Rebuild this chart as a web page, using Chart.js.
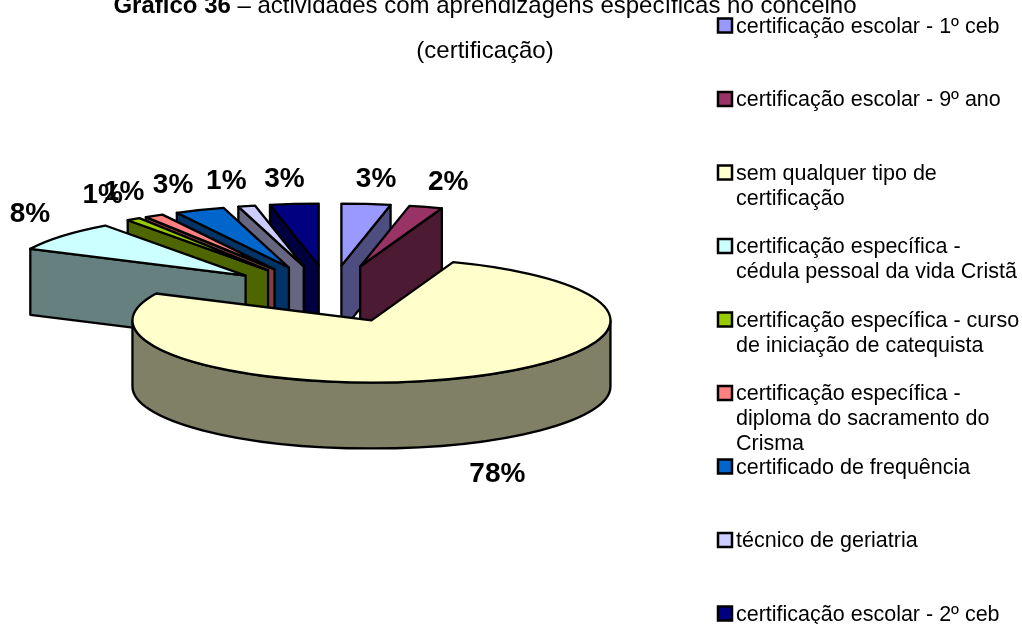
<!DOCTYPE html>
<html>
<head>
<meta charset="utf-8">
<title>Gráfico 36</title>
<script src="https://cdn.jsdelivr.net/npm/chart.js@4"></script>
<style>
  html, body { margin: 0; padding: 0; background: #fff; }
  #wrap { width: 1022px; height: 624px; overflow: hidden; }
</style>
</head>
<body>
<div id="wrap"><canvas id="pie" width="1022" height="624"></canvas></div>
<script>
const categories = [
    'certificação escolar - 1º ceb',
    'certificação escolar - 9º ano',
    'sem qualquer tipo de certificação',
    'certificação específica - cédula pessoal da vida Cristã',
    'certificação específica - curso de iniciação de catequista',
    'certificação específica - diploma do sacramento do Crisma',
    'certificado de frequência',
    'técnico de geriatria',
    'certificação escolar - 2º ceb'
];
// angular share of each slice
const sliceValues = [3.3, 2.25, 76.6, 7.86, 0.94, 1.28, 3.36, 1.14, 3.27];
// printed labels (the picture's rounded numbers)
const percentLabels = ['3%', '2%', '78%', '8%', '1%', '1%', '3%', '1%', '3%'];
const topColors = ['#9999FF', '#993366', '#FFFFCC', '#CCFFFF', '#99CC00', '#FF8080', '#0066CC', '#CCCCFF', '#000080'];
const wallColors = ['#4D4D80', '#4D1A33', '#808066', '#668080', '#4D6600', '#804040', '#003366', '#666680', '#000040'];
const titleBold = 'Gráfico 36';
const titleRest = ' – actividades com aprendizagens específicas no concelho';
const titleLine2 = '(certificação)';

const FONT = '"Liberation Sans", Arial, sans-serif';
const TILT = 62 / 239;   // ellipse height / width
const DEPTH = 66;        // height of the extruded pie

function project(c, a, r) {
    return { x: c.x + Math.cos(a) * r, y: c.y + Math.sin(a) * r * TILT };
}

// arc element -> exploded centre on screen
function sliceGeom(el) {
    const mid = (el.startAngle + el.endAngle) / 2;
    const apex = project({ x: el.x, y: el.y }, mid, el.options.offset);
    return { apex, mid, start: el.startAngle, end: el.endAngle, r: el.outerRadius };
}

function radialWall(ctx, g, a, color) {
    const p = project(g.apex, a, g.r);
    ctx.beginPath();
    ctx.moveTo(g.apex.x, g.apex.y);
    ctx.lineTo(p.x, p.y);
    ctx.lineTo(p.x, p.y + DEPTH);
    ctx.lineTo(g.apex.x, g.apex.y + DEPTH);
    ctx.closePath();
    ctx.fillStyle = color;
    ctx.fill();
    ctx.stroke();
}

function outerWall(ctx, g, color) {
    // only the part of the rim turned to the viewer (canvas angle 0..PI)
    const a1 = Math.max(g.start, 0);
    const a2 = Math.min(g.end, Math.PI);
    if (a2 <= a1) return;
    const rx = g.r, ry = g.r * TILT;
    ctx.beginPath();
    ctx.ellipse(g.apex.x, g.apex.y, rx, ry, 0, a1, a2);
    ctx.ellipse(g.apex.x, g.apex.y + DEPTH, rx, ry, 0, a2, a1, true);
    ctx.closePath();
    ctx.fillStyle = color;
    ctx.fill();
    ctx.stroke();
}

function topFace(ctx, g, color) {
    ctx.beginPath();
    ctx.moveTo(g.apex.x, g.apex.y);
    ctx.ellipse(g.apex.x, g.apex.y, g.r, g.r * TILT, 0, g.start, g.end);
    ctx.closePath();
    ctx.fillStyle = color;
    ctx.fill();
    ctx.stroke();
}

const pie3d = {
    id: 'pie3d',
    beforeDatasetsDraw(chart) {
        const ctx = chart.ctx;
        const arcs = chart.getDatasetMeta(0).data;
        const order = arcs.map((el, i) => ({ g: sliceGeom(el), i }))
            .sort((a, b) => a.g.apex.y - b.g.apex.y);   // back to front
        ctx.save();
        ctx.strokeStyle = '#000';
        ctx.lineWidth = 2.3;
        ctx.lineJoin = 'round';
        order.forEach(({ g, i }) => {
            if (Math.cos(g.start) < -1e-6) radialWall(ctx, g, g.start, wallColors[i]);
            if (Math.cos(g.end) > 1e-6) radialWall(ctx, g, g.end, wallColors[i]);
            outerWall(ctx, g, wallColors[i]);
            topFace(ctx, g, topColors[i]);
        });
        ctx.restore();

        // percent labels sit outside the rim
        ctx.save();
        ctx.font = 'bold 28px ' + FONT;
        ctx.fillStyle = '#000';
        ctx.textAlign = 'center';
        ctx.textBaseline = 'middle';
        order.forEach(({ g, i }) => {
            const rim = project(g.apex, g.mid, g.r);
            const s = Math.cos(g.mid);
            let dx, dy;
            if (Math.sin(g.mid) < 0) {
                dx = 33 * Math.tanh(3 * s);
                dy = -25 + 5 * s * s;
            } else {
                dx = 95 * s;
                dy = DEPTH + 30;
            }
            ctx.fillText(percentLabels[i], rim.x + dx, rim.y + dy);
        });
        ctx.restore();
        return false;   // no flat arcs on top
    },
    afterDraw(chart) {
        const ctx = chart.ctx;
        ctx.save();
        ctx.fillStyle = '#000';
        ctx.textBaseline = 'alphabetic';

        // title, bold + normal runs, centred
        ctx.font = 'bold 24px ' + FONT;
        const w1 = ctx.measureText(titleBold).width;
        ctx.font = '24px ' + FONT;
        const w2 = ctx.measureText(titleRest).width;
        const left = 485 - (w1 + w2) / 2;
        ctx.textAlign = 'left';
        ctx.font = 'bold 24px ' + FONT;
        ctx.fillText(titleBold, left, 13);
        ctx.font = '24px ' + FONT;
        ctx.fillText(titleRest, left + w1, 13);
        ctx.textAlign = 'center';
        ctx.fillText(titleLine2, 485, 58);

        // legend
        ctx.textAlign = 'left';
        ctx.textBaseline = 'middle';
        ctx.font = '21.5px ' + FONT;
        categories.forEach((name, i) => {
            const y = 25.5 + i * 73.5;
            ctx.fillStyle = topColors[i];
            ctx.strokeStyle = '#000';
            ctx.lineWidth = 2.5;
            ctx.fillRect(718, y - 7, 14, 14);
            ctx.strokeRect(718, y - 7, 14, 14);
            ctx.fillStyle = '#000';
            wrap(ctx, name, 287).forEach((line, n) => {
                ctx.fillText(line, 736, y + 1.5 + n * 25);
            });
        });
        ctx.restore();
    }
};

function wrap(ctx, text, maxW) {
    const lines = [];
    let cur = '';
    text.split(' ').forEach(word => {
        const t = cur ? cur + ' ' + word : word;
        if (ctx.measureText(t).width > maxW && cur) {
            lines.push(cur);
            cur = word;
        } else {
            cur = t;
        }
    });
    lines.push(cur);
    return lines;
}

new Chart(document.getElementById('pie'), {
    type: 'pie',
    data: {
        labels: categories,
        datasets: [{
            data: sliceValues,
            backgroundColor: topColors,
            borderColor: '#000',
            borderWidth: 2,
            offset: 110
        }]
    },
    options: {
        responsive: false,
        animation: false,
        radius: 239,
        layout: { padding: { left: 0, right: 362, top: 0, bottom: 36 } },
        plugins: {
            legend: { display: false },
            tooltip: { enabled: false }
        }
    },
    plugins: [pie3d]
});
</script>
</body>
</html>
